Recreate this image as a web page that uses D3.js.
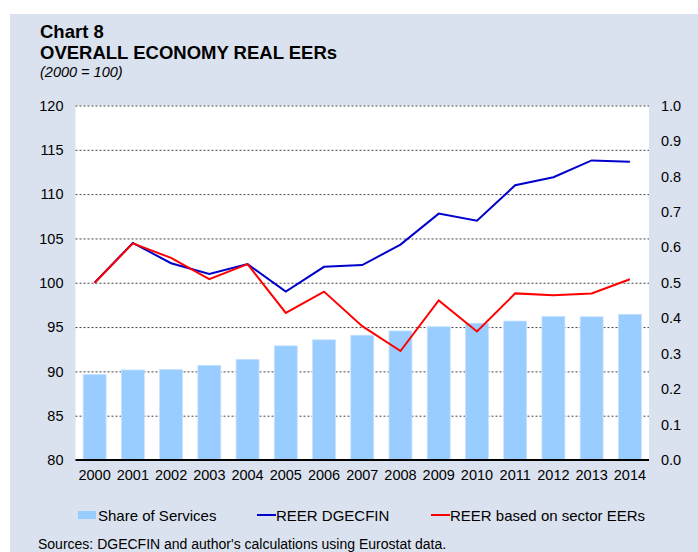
<!DOCTYPE html>
<html>
<head>
<meta charset="utf-8">
<script src="https://cdn.jsdelivr.net/npm/d3@7"></script>
<style>
  body { margin: 0; background: #fff; }
  svg { display: block; font-family: "Liberation Sans", Arial, sans-serif; }
</style>
</head>
<body>
<svg width="698" height="552"></svg>
<script>
//data
const years = ['2000','2001','2002','2003','2004','2005','2006','2007','2008','2009','2010','2011','2012','2013','2014'];
const shareServices = [0.241, 0.254, 0.255, 0.267, 0.284, 0.322, 0.339, 0.352, 0.364, 0.376, 0.386, 0.392, 0.405, 0.404, 0.411];
const reerDgecfin = [100, 104.5, 102.2, 101.0, 102.1, 99.0, 101.8, 102.0, 104.3, 107.8, 107.0, 111.0, 111.9, 113.8, 113.65];
const reerSector = [100, 104.45, 102.8, 100.4, 102.1, 96.6, 99.0, 95.1, 92.3, 98.0, 94.5, 98.8, 98.6, 98.8, 100.4];
const leftTicks = [80, 85, 90, 95, 100, 105, 110, 115, 120];
const rightTicks = [0, 0.1, 0.2, 0.3, 0.4, 0.5, 0.6, 0.7, 0.8, 0.9, 1.0];

//config
const svg = d3.select('svg');
const plotL = 75.5, plotR = 649, plotT = 105.5, plotB = 460;
const bg = '#dbe2ef';

//panel
svg.append('rect').attr('x', 10).attr('y', 14).attr('width', 700).attr('height', 560).attr('fill', bg);
svg.append('rect').attr('x', plotL).attr('y', plotT).attr('width', plotR - plotL).attr('height', plotB - plotT).attr('fill', '#fff');

//scales
const x = d3.scaleBand().domain(years).range([plotL, plotR]).paddingInner(0.4).paddingOuter(0.2);
const yL = d3.scaleLinear().domain([80, 120]).range([plotB, plotT]);
const yR = d3.scaleLinear().domain([0, 1]).range([plotB, plotT]);
const cx = d => x(d) + x.bandwidth() / 2;

//titles
svg.append('text').attr('x', 40).attr('y', 38).attr('font-size', 18.5).attr('font-weight', 'bold').attr('fill', '#000').text('Chart 8');
svg.append('text').attr('x', 40).attr('y', 58.5).attr('font-size', 18.5).attr('font-weight', 'bold').attr('fill', '#000').text('OVERALL ECONOMY REAL EERs');
svg.append('text').attr('x', 40).attr('y', 77).attr('font-size', 14.5).attr('font-style', 'italic').attr('fill', '#000').text('(2000 = 100)');

//grid
svg.append('g').selectAll('line').data(leftTicks.slice(1)).enter().append('line')
	.attr('x1', plotL).attr('x2', plotR)
	.attr('y1', d => yL(d) + 0.5).attr('y2', d => yL(d) + 0.5)
	.attr('stroke', '#444').attr('stroke-width', 1).attr('stroke-dasharray', '2,2');

//bars
svg.append('g').selectAll('rect').data(shareServices).enter().append('rect')
	.attr('x', (d, i) => x(years[i]))
	.attr('y', d => yR(d))
	.attr('width', x.bandwidth())
	.attr('height', d => plotB - yR(d))
	.attr('fill', '#99ccff')
	.attr('stroke', '#c6e2ff').attr('stroke-width', 0.8);

//lines
const line = d3.line().x((d, i) => cx(years[i])).y(d => yL(d));
svg.append('path').datum(reerDgecfin).attr('d', line).attr('fill', 'none').attr('stroke', '#0000cc').attr('stroke-width', 2);
svg.append('path').datum(reerSector).attr('d', line).attr('fill', 'none').attr('stroke', '#ff0000').attr('stroke-width', 2);

//axes
const axL = svg.append('g').attr('transform', `translate(${plotL},0)`)
	.call(d3.axisLeft(yL).tickValues(leftTicks).tickSize(0).tickPadding(12));
const axR = svg.append('g').attr('transform', `translate(${plotR},0)`)
	.call(d3.axisRight(yR).tickValues(rightTicks).tickFormat(d3.format('.1f')).tickSize(0).tickPadding(12));
const axB = svg.append('g').attr('transform', `translate(0,${plotB})`)
	.call(d3.axisBottom(x).tickSize(0).tickPadding(10));
[axL, axR, axB].forEach(a => {
	a.select('.domain').remove();
	a.selectAll('text').attr('font-size', 14.5).attr('fill', '#000').attr('font-family', '"Liberation Sans", Arial, sans-serif');
});
svg.append('line').attr('x1', plotL).attr('x2', plotR).attr('y1', plotB).attr('y2', plotB).attr('stroke', '#000').attr('stroke-width', 2);

//legend
const lg = svg.append('g').attr('font-size', 15).attr('fill', '#000');
lg.append('rect').attr('x', 78).attr('y', 511).attr('width', 18).attr('height', 8).attr('fill', '#99ccff');
lg.append('text').attr('x', 98).attr('y', 520.5).text('Share of Services');
lg.append('line').attr('x1', 257).attr('x2', 276).attr('y1', 515).attr('y2', 515).attr('stroke', '#0000cc').attr('stroke-width', 2);
lg.append('text').attr('x', 276).attr('y', 520.5).text('REER DGECFIN');
lg.append('line').attr('x1', 431).attr('x2', 450).attr('y1', 515).attr('y2', 515).attr('stroke', '#ff0000').attr('stroke-width', 2);
lg.append('text').attr('x', 450).attr('y', 520.5).text('REER based on sector EERs');

//source
svg.append('text').attr('x', 38).attr('y', 548.5).attr('font-size', 14).attr('fill', '#000').text("Sources: DGECFIN and author's calculations using Eurostat data.");
</script>
</body>
</html>
